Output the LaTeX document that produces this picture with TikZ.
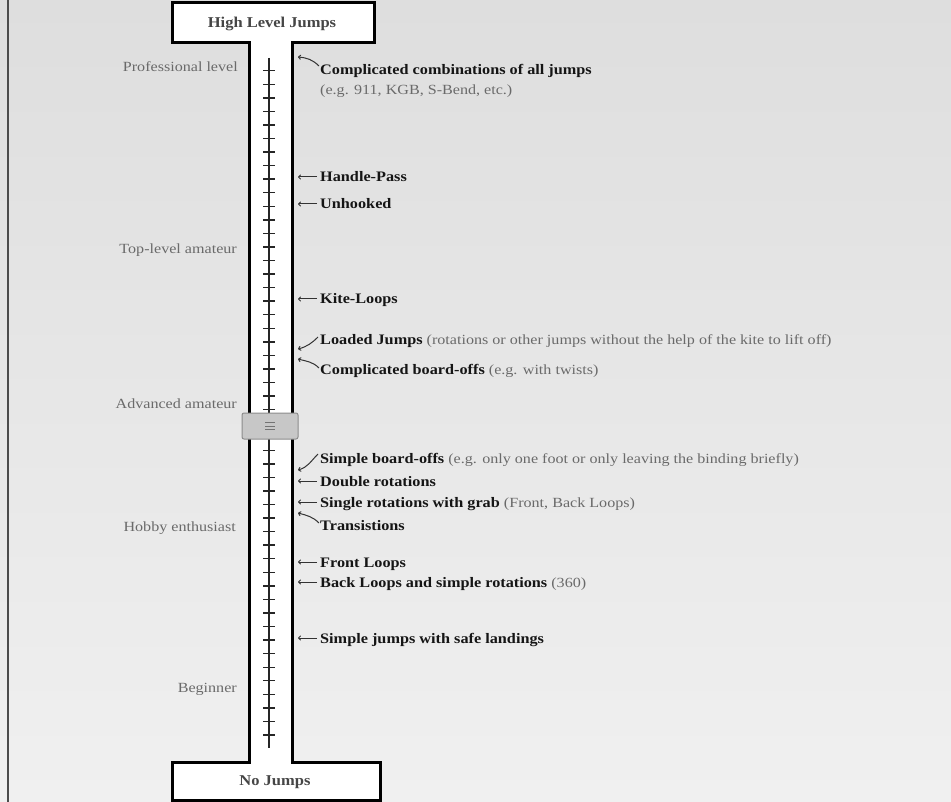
\documentclass[tikz,border=0pt]{standalone}
\usepackage{fontspec}
\setmainfont{Liberation Serif}
\newfontfamily\labfont[FakeStretch=1.12]{Liberation Serif}
\newfontfamily\grfont[FakeStretch=1.15]{Liberation Serif}
\newfontfamily\boxfont[FakeStretch=1.1]{Liberation Serif}
\usetikzlibrary{arrows.meta}
\definecolor{bgtop}{HTML}{DEDEDE}
\definecolor{bgbot}{HTML}{F0F0F0}
\definecolor{gtc}{HTML}{6A6A6A}
\definecolor{btc}{HTML}{151515}
\definecolor{boxtc}{HTML}{454545}
\definecolor{arc}{HTML}{333333}
\newcommand{\gtx}[1]{{\grfont\mdseries\fontsize{14}{16}\selectfont\color{gtc}#1}}
\begin{document}
\begin{tikzpicture}[x=1pt,y=-1pt,
  bl/.style={anchor=base west, inner xsep=3pt, inner ysep=0pt,
    font=\labfont\fontsize{14.5}{16}\selectfont\bfseries, text=btc},
  lvl/.style={anchor=base east, inner sep=0pt,
    font=\grfont\fontsize{14}{16}\selectfont, text=gtc},
  boxlbl/.style={inner sep=0pt, font=\boxfont\fontsize{15}{17}\selectfont\bfseries, text=boxtc},
  arr/.style={draw=arc, line width=1pt, -{To[length=3pt,width=5pt]}},
  tick/.style={line width=1.4pt, draw=black!85},
  slider/.style={draw=black!45, fill=black!22, line width=1pt, rounded corners=2pt,
    minimum width=56pt, minimum height=26pt, inner sep=0pt}
]
\useasboundingbox (0,0) rectangle (951,802);
\fill[top color=bgtop, bottom color=bgbot] (0,0) rectangle (951,802);
\draw[line width=2.5pt, draw=black!70] (8,0) -- (8,802);

% thermometer outline
\draw[line width=3pt, fill=white, line join=miter]
  (172,3) -- (374,3) -- (374,43) -- (292,43) -- (292,762) -- (380,762)
  -- (380,800) -- (172,800) -- (172,762) -- (249,762) -- (249,43) -- (172,43) -- cycle;

\node[boxlbl] (hi) at (272,24) {High Level Jumps};
\node[boxlbl] (no) at (275,782) {No Jumps};

% scale
\draw[line width=2pt, draw=black!85] (269,58) -- (269,748);
\foreach \i in {0,...,49} {
  \draw[tick] (263,{70.7+\i*13.557}) -- (275,{70.7+\i*13.557});
}

% slider
\node[slider] (sl) at (270,426) {};
\draw[draw=black!55, line width=0.9pt] (265,422.5) -- (275,422.5) (265,426) -- (275,426) (265,429.5) -- (275,429.5);

% level labels
\node[lvl] (l1) at (238,72) {Professional level};
\node[lvl] (l2) at (237,254) {Top-level amateur};
\node[lvl] (l3) at (237,409) {Advanced amateur};
\node[lvl] (l4) at (236,531) {Hobby enthusiast};
\node[lvl] (l5) at (237,692) {Beginner};

% jump labels
\node[bl] (a1) at (317,75) {Complicated combinations of all jumps};
\node[anchor=base west, inner sep=0pt] (a1b) at (320,95) {\gtx{(e.g. 911, KGB, S-Bend, etc.)}};
\node[bl] (a2) at (317,182) {Handle-Pass};
\node[bl] (a3) at (317,209) {Unhooked};
\node[bl] (a4) at (317,304) {Kite-Loops};
\node[bl] (a5) at (317,345) {Loaded Jumps \gtx{(rotations or other jumps without the help of the kite to lift off)}};
\node[bl] (a6) at (317,375) {Complicated board-offs \gtx{(e.g. with twists)}};
\node[bl] (a7) at (317,463) {Simple board-offs \gtx{(e.g. only one foot or only leaving the binding briefly)}};
\node[bl] (a8) at (317,486) {Double rotations};
\node[bl] (a9) at (317,507) {Single rotations with grab \gtx{(Front, Back Loops)}};
\node[bl] (a10) at (317,530) {Transistions};
\node[bl] (a11) at (317,567) {Front Loops};
\node[bl] (a12) at (317,587) {Back Loops and simple rotations \gtx{(360)}};
\node[bl] (a13) at (317,643) {Simple jumps with safe landings};

% arrow tips
\coordinate (t1) at (298,57);
\coordinate (t2) at (298,177);
\coordinate (t3) at (298,204);
\coordinate (t4) at (298,299);
\coordinate (t5) at (298,349);
\coordinate (t6) at (298,359);
\coordinate (t7) at (298,470);
\coordinate (t8) at (298,481);
\coordinate (t9) at (298,502);
\coordinate (t10) at (298,513);
\coordinate (t11) at (298,562);
\coordinate (t12) at (298,582);
\coordinate (t13) at (298,638);

\draw[arr] ([xshift=2pt,yshift=9pt]a1.base west) to[out=135,in=-5] (t1);
\draw[arr] ([yshift=5pt]a2.base west) -- (t2);
\draw[arr] ([yshift=5pt]a3.base west) -- (t3);
\draw[arr] ([yshift=5pt]a4.base west) -- (t4);
\draw[arr] ([xshift=1pt,yshift=8pt]a5.base west) to[out=-135,in=15] (t5);
\draw[arr] ([xshift=2pt,yshift=7pt]a6.base west) to[out=135,in=-15] (t6);
\draw[arr] ([xshift=1pt,yshift=9pt]a7.base west) to[out=-135,in=15] (t7);
\draw[arr] ([yshift=5pt]a8.base west) -- (t8);
\draw[arr] ([yshift=5pt]a9.base west) -- (t9);
\draw[arr] ([xshift=2pt,yshift=7pt]a10.base west) to[out=135,in=-15] (t10);
\draw[arr] ([yshift=5pt]a11.base west) -- (t11);
\draw[arr] ([yshift=5pt]a12.base west) -- (t12);
\draw[arr] ([yshift=5pt]a13.base west) -- (t13);
\end{tikzpicture}
\end{document}
